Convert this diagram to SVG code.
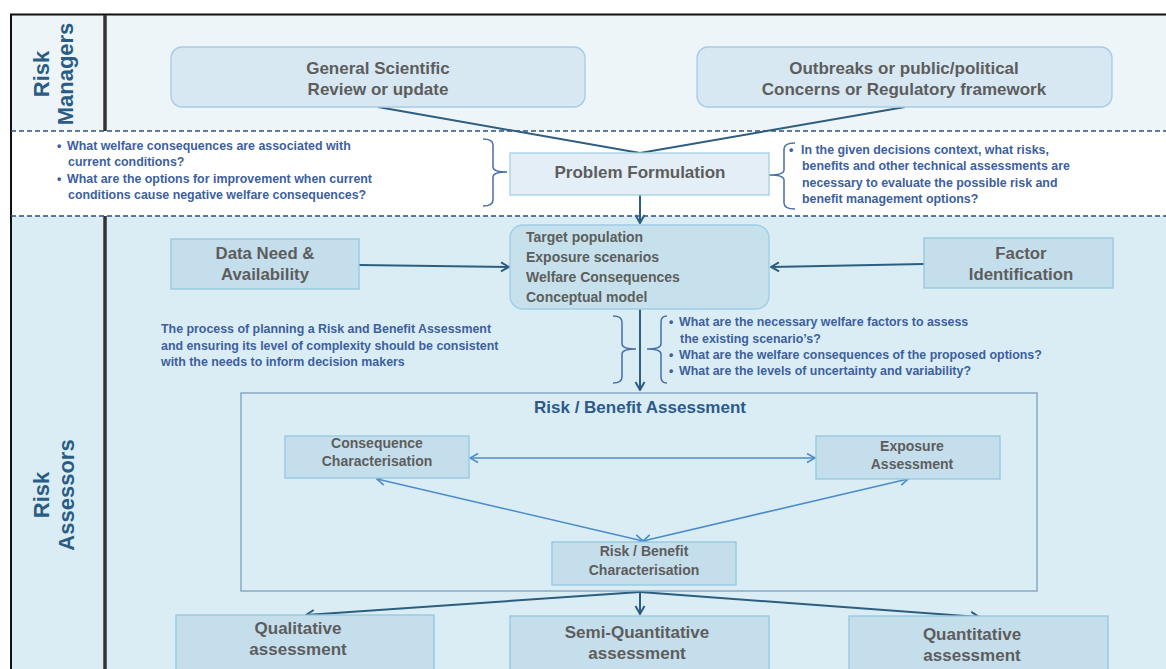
<svg xmlns="http://www.w3.org/2000/svg" width="1166" height="669" viewBox="0 0 1166 669">
<defs>
<style>
.gt{font-family:"Liberation Sans",Arial,sans-serif;font-weight:bold;fill:#5d5d5d;text-anchor:middle}
.bt{font-family:"Liberation Sans",Arial,sans-serif;font-weight:bold;fill:#3d5f9e;font-size:12.4px}
.lab{font-family:"Liberation Sans",Arial,sans-serif;font-weight:bold;fill:#2b5d84;font-size:22px;text-anchor:middle}
.rbox{fill:#c5deec;stroke:#93c8e0;stroke-width:1.3}
.tbox{fill:#d7e8f2;stroke:#a6cbe8;stroke-width:1.3}
.dk{fill:none;stroke:#2d5e80;stroke-width:2}
.lt{fill:none;stroke:#4c8cca;stroke-width:1.6}
.br{fill:none;stroke:#4a6fa5;stroke-width:1.5}
.dash{stroke:#2e4f7f;stroke-width:1.3;stroke-dasharray:5 3}
</style>
<marker id="ad" markerUnits="userSpaceOnUse" markerWidth="12" markerHeight="12" viewBox="0 0 12 12" refX="11" refY="6" orient="auto-start-reverse">
<path d="M3,1.5 L11,6 L3,10.5" fill="none" stroke="#2d5e80" stroke-width="2"/>
</marker>
<marker id="al" markerUnits="userSpaceOnUse" markerWidth="12" markerHeight="12" viewBox="0 0 12 12" refX="11" refY="6" orient="auto-start-reverse">
<path d="M3,1.5 L11,6 L3,10.5" fill="none" stroke="#4c8cca" stroke-width="1.6"/>
</marker>
</defs>

<g id="background">
<rect x="0" y="0" width="1166" height="669" fill="#ffffff"/>
<rect x="11" y="15" width="1155" height="116" fill="#eef5f9"/>
<rect x="11" y="131" width="1155" height="85" fill="#ffffff"/>
<rect x="11" y="216" width="1155" height="453" fill="#daedf4"/>
<line x1="10" y1="14.5" x2="1166" y2="14.5" stroke="#111" stroke-width="2"/>
<line x1="11" y1="14" x2="11" y2="669" stroke="#111" stroke-width="2"/>
<line x1="105" y1="15" x2="105" y2="131" stroke="#333" stroke-width="3.5"/>
<line x1="105" y1="216" x2="105" y2="669" stroke="#333" stroke-width="3.5"/>
<line class="dash" x1="11" y1="131" x2="1166" y2="131"/>
<line class="dash" x1="11" y1="216" x2="1166" y2="216"/>
<text class="lab" transform="translate(49,74) rotate(-90)">Risk</text>
<text class="lab" transform="translate(73,74) rotate(-90)">Managers</text>
<text class="lab" transform="translate(49,495) rotate(-90)">Risk</text>
<text class="lab" transform="translate(74,495) rotate(-90)">Assessors</text>
</g>

<g id="connectors">
<polyline class="dk" points="378,107 640,153 905,107"/>
<line class="dk" x1="640" y1="195" x2="640" y2="223" marker-end="url(#ad)"/>
<line class="dk" x1="359" y1="265" x2="509" y2="267" marker-end="url(#ad)"/>
<line class="dk" x1="924" y1="264" x2="771" y2="267" marker-end="url(#ad)"/>
<line class="dk" x1="640" y1="309" x2="640" y2="390" marker-end="url(#ad)"/>
<line class="lt" x1="470" y1="458" x2="815" y2="458" marker-start="url(#al)" marker-end="url(#al)"/>
<line class="lt" x1="377" y1="479" x2="643" y2="541" marker-start="url(#al)" marker-end="url(#al)"/>
<line class="lt" x1="908" y1="479" x2="643" y2="541" marker-start="url(#al)" marker-end="url(#al)"/>
<line class="dk" x1="640" y1="592" x2="306" y2="615" marker-end="url(#ad)"/>
<line class="dk" x1="640" y1="592" x2="640" y2="614" marker-end="url(#ad)"/>
<line class="dk" x1="640" y1="592" x2="979" y2="617" marker-end="url(#ad)"/>
<path class="br" d="M483,139 Q493,139 493,145 L493,167 Q493,172 507,172 Q493,172 493,177 L493,200 Q493,206 483,206"/>
<path class="br" d="M795,143 Q784,143 784,149 L784,170 Q784,175 769,175 Q784,175 784,180 L784,203 Q784,209 795,209"/>
<path class="br" d="M613,316 Q622,316 622,322 L622,344 Q622,349 636,349 Q622,349 622,354 L622,377 Q622,383 613,383"/>
<path class="br" d="M667,316 Q661,316 661,322 L661,344 Q661,349 647,349 Q661,349 661,354 L661,377 Q661,383 667,383"/>
</g>

<g id="general-scientific">
<rect class="tbox" x="171" y="47" width="414" height="60" rx="11"/>
<text class="gt" x="378" y="74" font-size="17">General Scientific</text>
<text class="gt" x="378" y="95" font-size="17">Review or update</text>
</g>

<g id="outbreaks">
<rect class="tbox" x="697" y="47" width="415" height="60" rx="11"/>
<text class="gt" x="904" y="74" font-size="17">Outbreaks or public/political</text>
<text class="gt" x="904" y="95" font-size="17">Concerns or Regulatory framework</text>
</g>

<g id="problem-formulation">
<rect x="510" y="153" width="259" height="42" fill="#e4eef6" stroke="#a2d2e4" stroke-width="1.3"/>
<text class="gt" x="640" y="178" font-size="17">Problem Formulation</text>
</g>

<g id="pf-questions-left">
<text class="bt" x="57" y="150">•</text>
<text class="bt" x="67" y="150">What welfare consequences are associated with</text>
<text class="bt" x="68" y="166">current conditions?</text>
<text class="bt" x="57" y="183">•</text>
<text class="bt" x="67" y="183">What are the options for improvement when current</text>
<text class="bt" x="68" y="199">conditions cause negative welfare consequences?</text>
</g>

<g id="pf-questions-right">
<text class="bt" x="789" y="154">•</text>
<text class="bt" x="801" y="154">In the given decisions context, what risks,</text>
<text class="bt" x="802" y="170">benefits and other technical assessments are</text>
<text class="bt" x="802" y="187">necessary to evaluate the possible risk and</text>
<text class="bt" x="802" y="203">benefit management options?</text>
</g>

<g id="target">
<rect x="510" y="225" width="259" height="84" rx="13" fill="#c6e1eb" stroke="#9fcce6" stroke-width="1.3"/>
<text class="gt" x="526" y="242" font-size="14" style="text-anchor:start">Target population</text>
<text class="gt" x="526" y="262" font-size="14" style="text-anchor:start">Exposure scenarios</text>
<text class="gt" x="526" y="282" font-size="14" style="text-anchor:start">Welfare Consequences</text>
<text class="gt" x="526" y="302" font-size="14" style="text-anchor:start">Conceptual model</text>
</g>

<g id="data-need">
<rect class="rbox" x="171" y="239" width="188" height="50"/>
<text class="gt" x="265" y="259" font-size="16.8">Data Need &amp;</text>
<text class="gt" x="265" y="280" font-size="16.8">Availability</text>
</g>

<g id="factor-identification">
<rect class="rbox" x="924" y="238" width="189" height="50"/>
<text class="gt" x="1021" y="259" font-size="16.8">Factor</text>
<text class="gt" x="1021" y="280" font-size="16.8">Identification</text>
</g>

<g id="process-note">
<text class="bt" x="161" y="333">The process of planning a Risk and Benefit Assessment</text>
<text class="bt" x="161" y="350">and ensuring its level of complexity should be consistent</text>
<text class="bt" x="161" y="366">with the needs to inform decision makers</text>
</g>

<g id="assessment-questions">
<text class="bt" x="669" y="326">•</text>
<text class="bt" x="679" y="326">What are the necessary welfare factors to assess</text>
<text class="bt" x="680" y="343">the existing scenario’s?</text>
<text class="bt" x="669" y="359">•</text>
<text class="bt" x="679" y="359">What are the welfare consequences of the proposed options?</text>
<text class="bt" x="669" y="375">•</text>
<text class="bt" x="679" y="375">What are the levels of uncertainty and variability?</text>
</g>

<g id="risk-benefit-assessment">
<rect x="241" y="393" width="796" height="198" fill="none" stroke="#7d9ec2" stroke-width="1.3"/>
<text x="640" y="413" font-family="Liberation Sans, Arial, sans-serif" font-weight="bold" font-size="17" fill="#2c5a8a" text-anchor="middle">Risk / Benefit Assessment</text>
</g>

<g id="consequence-characterisation">
<rect class="rbox" x="285" y="436" width="184" height="42"/>
<text class="gt" x="377" y="448" font-size="14">Consequence</text>
<text class="gt" x="377" y="466" font-size="14">Characterisation</text>
</g>

<g id="exposure-assessment">
<rect class="rbox" x="816" y="436" width="184" height="43"/>
<text class="gt" x="912" y="451" font-size="14">Exposure</text>
<text class="gt" x="912" y="469" font-size="14">Assessment</text>
</g>

<g id="risk-benefit-characterisation">
<rect class="rbox" x="552" y="542" width="184" height="43"/>
<text class="gt" x="644" y="556" font-size="14">Risk / Benefit</text>
<text class="gt" x="644" y="575" font-size="14">Characterisation</text>
</g>

<g id="qualitative">
<rect class="rbox" x="176" y="615" width="258" height="60"/>
<text class="gt" x="298" y="634" font-size="17">Qualitative</text>
<text class="gt" x="298" y="655" font-size="17">assessment</text>
</g>

<g id="semi-quantitative">
<rect class="rbox" x="510" y="616" width="259" height="60"/>
<text class="gt" x="637" y="638" font-size="17">Semi-Quantitative</text>
<text class="gt" x="637" y="659" font-size="17">assessment</text>
</g>

<g id="quantitative">
<rect class="rbox" x="849" y="616" width="259" height="60"/>
<text class="gt" x="972" y="640" font-size="17">Quantitative</text>
<text class="gt" x="972" y="661" font-size="17">assessment</text>
</g>
</svg>
